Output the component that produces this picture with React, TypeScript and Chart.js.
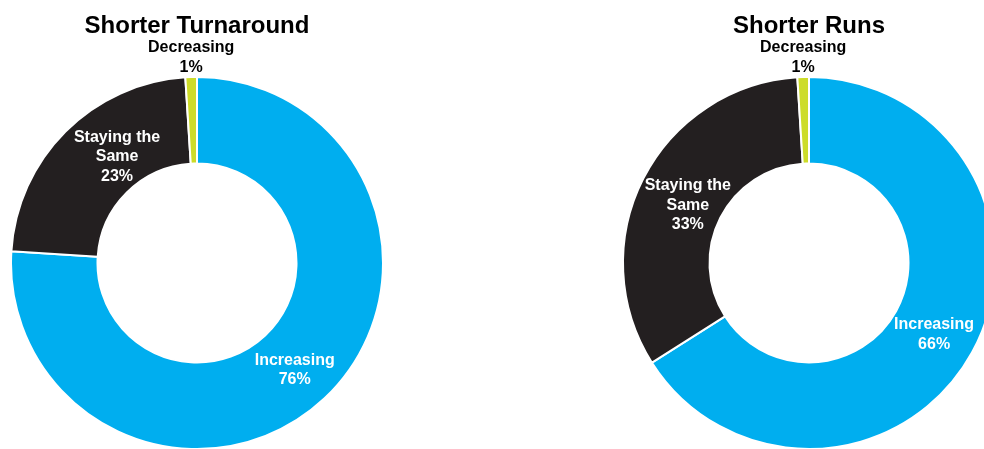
import React, { useEffect, useRef } from "react";
import { Chart, registerables } from "chart.js";

Chart.register(...registerables);

const categories = ["Increasing", "Staying the Same", "Decreasing"];
const categoryLines = [["Increasing"], ["Staying the", "Same"], ["Decreasing"]];
const turnaroundValues = [76, 23, 1];
const runsValues = [66, 33, 1];
const titles = ["Shorter Turnaround", "Shorter Runs"];
const colors = ["#00AEEF", "#231F20", "#CDDC29"];

const FONT = "'Liberation Sans', Arial, Helvetica, sans-serif";

const labelPlugin = {
  id: "sliceLabels",
  afterDatasetsDraw(chart: any, _args: any, opts: any) {
    const ctx = chart.ctx;
    const meta = chart.getDatasetMeta(0);
    const data = chart.data.datasets[0].data as number[];
    const nudges = (opts && opts.nudges) || [];
    ctx.save();
    ctx.font = `bold 16px ${FONT}`;
    ctx.textAlign = "center";
    ctx.textBaseline = "middle";
    const lh = 19.5;
    meta.data.forEach((arc: any, i: number) => {
      const p = arc.getProps(["x", "y", "startAngle", "endAngle", "innerRadius", "outerRadius"], true);
      const mid = (p.startAngle + p.endAngle) / 2;
      const lines = [...categoryLines[i], `${data[i]}%`];
      const nd = nudges[i] || [0, 0];
      if (data[i] < 5) {
        const x = p.x + p.outerRadius * Math.cos(mid);
        const yEdge = p.y + p.outerRadius * Math.sin(mid);
        ctx.fillStyle = "#000";
        lines.forEach((ln, k) => {
          const y = yEdge - 10 - (lines.length - 1 - k) * 20;
          ctx.fillText(ln, x + nd[0], y + nd[1]);
        });
      } else {
        const r = (p.innerRadius + p.outerRadius) / 2;
        const x = p.x + r * Math.cos(mid) + nd[0];
        const y = p.y + r * Math.sin(mid) + nd[1];
        ctx.fillStyle = "#fff";
        const top = y - ((lines.length - 1) * lh) / 2;
        lines.forEach((ln, k) => ctx.fillText(ln, x, top + k * lh));
      }
    });
    ctx.restore();
  },
};

function Donut({ title, values, left, nudges }: { title: string; values: number[]; left: number; nudges: number[][] }) {
  const ref = useRef<HTMLCanvasElement>(null);
  useEffect(() => {
    const chart = new Chart(ref.current as HTMLCanvasElement, {
      type: "doughnut",
      data: {
        labels: categories,
        datasets: [
          {
            data: values,
            backgroundColor: colors,
            borderColor: "#ffffff",
            borderWidth: 2,
          },
        ],
      },
      options: {
        responsive: false,
        maintainAspectRatio: false,
        animation: false,
        cutout: "53.5%",
        layout: { padding: 0 },
        plugins: {
          legend: { display: false },
          tooltip: { enabled: false },
          title: {
            display: true,
            text: title,
            color: "#000",
            font: { family: FONT, size: 24, weight: "bold", lineHeight: 1.2 },
            padding: { top: 12, bottom: 35.2 },
          },
          sliceLabels: { nudges },
        } as any,
      },
      plugins: [labelPlugin],
    });
    return () => chart.destroy();
  }, []);
  return (
    <canvas
      ref={ref}
      width={394}
      height={450}
      style={{ position: "absolute", left, top: 0, width: 394, height: 450 }}
    />
  );
}

export default function App() {
  return (
    <div
      style={{
        position: "fixed",
        left: 0,
        top: 0,
        width: 984,
        height: 449,
        overflow: "hidden",
        background: "#fff",
      }}
    >
      <Donut title={titles[0]} values={turnaroundValues} left={0} nudges={[[0, 3], [21, -5], [0, 1]]} />
      <Donut title={titles[1]} values={runsValues} left={612} nudges={[[0, 3], [6, 7], [0, 1]]} />
    </div>
  );
}
